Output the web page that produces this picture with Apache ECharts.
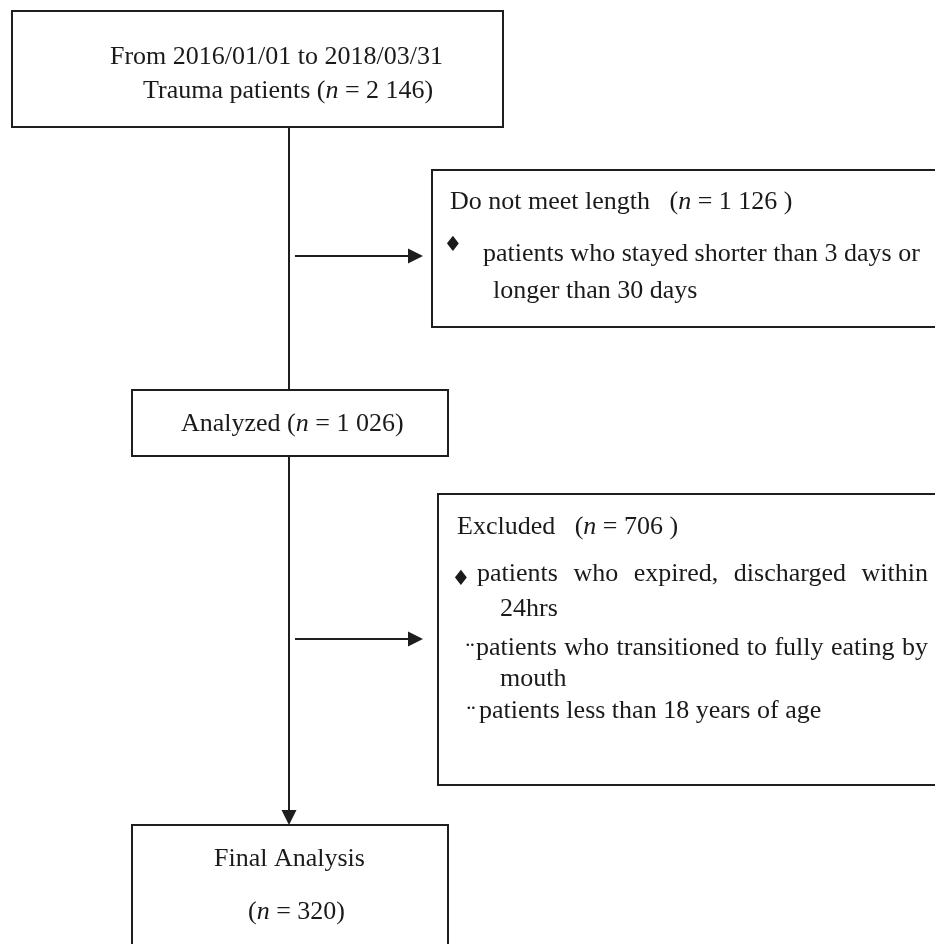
<!DOCTYPE html>
<html><head><meta charset="utf-8">
<script src="https://cdn.jsdelivr.net/npm/echarts@6/dist/echarts.min.js"></script>
<style>html,body{margin:0;padding:0;background:#fff}#c{width:935px;height:944px}</style>
</head><body><div id="c"></div>
<script>
// ---------- content (values) ----------
const periodText = 'From 2016/01/01 to 2018/03/31';
const stageNames = ['Trauma patients', 'Analyzed', 'Final Analysis'];
const stageCounts = [2146, 1026, 320];
const exclusionTitles = ['Do not meet length', 'Excluded'];
const exclusionCounts = [1126, 706];
const exclusionReasonsA = ['patients who stayed shorter than 3 days or|longer than 30 days'];
const exclusionReasonsB = ['patients who expired, discharged within|24hrs',
                           'patients who transitioned to fully eating by|mouth',
                           'patients less than 18 years of age'];
const bulletsA = ['\u2666'];
const bulletsB = ['\u2666', '\u00A8', '\u00A8'];

// ---------- layout (axis units, separate from values) ----------
const SERIF = '"Liberation Serif","Times New Roman",serif';
const FS = 26;
const FONT = FS + 'px ' + SERIF;
const IFONT = 'italic ' + FS + 'px ' + SERIF;
const INK = '#1a1a1a';
const LINE = '#1e1e1e';

const stageBoxes = [[12, 11, 503, 127], [132, 390, 448, 456], [132, 825, 448, 952]];
const exclBoxes = [[432, 170, 946, 327], [438, 494, 946, 785]];
const trunkX = 289;
const branchYs = [256, 639];
const branchX = [295, 423];

function fmt(n) { return String(n).replace(/\B(?=(\d{3})+(?!\d))/g, ' '); }
function nExpr(n, pad) { return '({i|n} = ' + fmt(n) + (pad ? ' )' : ')'); }

const mctx = document.createElement('canvas').getContext('2d');
function measure(t, font) { mctx.font = font; return mctx.measureText(t).width; }

// build element list
const elements = [];
stageBoxes.forEach(b => elements.push({ type: 'rect', b }));
exclBoxes.forEach(b => elements.push({ type: 'rect', b }));
elements.push({ type: 'line', p: [[trunkX, stageBoxes[0][3]], [trunkX, stageBoxes[1][1]]] });
elements.push({ type: 'arrow', p: [[trunkX, stageBoxes[1][3]], [trunkX, stageBoxes[2][1]]] });
branchYs.forEach(y => elements.push({ type: 'arrow', p: [[branchX[0], y], [branchX[1], y]] }));

// stage texts
elements.push({ type: 'text', x: 110, y: 57, t: periodText });
elements.push({ type: 'text', x: 143, y: 91, t: stageNames[0] + ' ' + nExpr(stageCounts[0]) });
elements.push({ type: 'text', x: 181, y: 424, t: stageNames[1] + ' ' + nExpr(stageCounts[1]) });
elements.push({ type: 'text', x: 214, y: 859, t: stageNames[2] });
elements.push({ type: 'text', x: 248, y: 912, t: nExpr(stageCounts[2]) });

// exclusion A
elements.push({ type: 'text', x: 450, y: 202, t: exclusionTitles[0] + '   ' + nExpr(exclusionCounts[0], true) });
const reasonPosA = [{ bx: 453, by: 246, lines: [[483, 254, null], [493, 291, null]] }];
exclusionReasonsA.forEach((r, i) => {
  const pos = reasonPosA[i];
  elements.push({ type: 'bullet', x: pos.bx, y: pos.by, t: bulletsA[i] });
  r.split('|').forEach((ln, k) => {
    const lp = pos.lines[k];
    elements.push({ type: 'text', x: lp[0], y: lp[1], t: ln, justify: lp[2] });
  });
});

// exclusion B
elements.push({ type: 'text', x: 457, y: 527, t: exclusionTitles[1] + '   ' + nExpr(exclusionCounts[1], true) });
const reasonPosB = [
  { bx: 461, by: 580, lines: [[477, 574, 928], [500, 609, null]] },
  { bx: 470, by: 653, lines: [[476, 648, 928], [500, 679, null]] },
  { bx: 471, by: 716, lines: [[479, 711, null]] }
];
exclusionReasonsB.forEach((r, i) => {
  const pos = reasonPosB[i];
  elements.push({ type: 'bullet', x: pos.bx, y: pos.by, t: bulletsB[i] });
  r.split('|').forEach((ln, k) => {
    const lp = pos.lines[k];
    elements.push({ type: 'text', x: lp[0], y: lp[1], t: ln, justify: lp[2] });
  });
});

const rich = { i: { font: IFONT, fill: INK } };

function renderItem(params, api) {
  const e = elements[params.dataIndex];
  if (e.type === 'rect') {
    const p0 = api.coord([e.b[0], e.b[1]]), p1 = api.coord([e.b[2], e.b[3]]);
    return { type: 'rect', shape: { x: Math.min(p0[0], p1[0]), y: Math.min(p0[1], p1[1]),
      width: Math.abs(p1[0] - p0[0]), height: Math.abs(p1[1] - p0[1]) },
      style: { fill: '#fff', stroke: LINE, lineWidth: 2 } };
  }
  if (e.type === 'line' || e.type === 'arrow') {
    const a = api.coord(e.p[0]), b = api.coord(e.p[1]);
    if (e.type === 'line') {
      return { type: 'line', shape: { x1: a[0], y1: a[1], x2: b[0], y2: b[1] }, style: { stroke: LINE, lineWidth: 2 } };
    }
    const dx = b[0] - a[0], dy = b[1] - a[1], len = Math.hypot(dx, dy);
    const ux = dx / len, uy = dy / len, hl = 15, hw = 7.5;
    const bx = b[0] - ux * hl, by = b[1] - uy * hl;
    return { type: 'group', children: [
      { type: 'line', shape: { x1: a[0], y1: a[1], x2: bx, y2: by }, style: { stroke: LINE, lineWidth: 2 } },
      { type: 'polygon', shape: { points: [[b[0], b[1]], [bx - uy * hw, by + ux * hw], [bx + uy * hw, by - ux * hw]] },
        style: { fill: LINE } }
    ] };
  }
  if (e.type === 'bullet') {
    const p = api.coord([e.x, e.y]);
    const isDia = e.t === '\u2666';
    return { type: 'text', style: { x: p[0], y: p[1], text: e.t,
      font: isDia ? '21px "DejaVu Sans",sans-serif' : FONT, fill: INK, align: 'center', verticalAlign: 'middle' } };
  }
  if (e.type === 'text') {
    const p = api.coord([e.x, e.y]);
    if (e.justify) {
      const words = e.t.split(' ');
      const end = api.coord([e.justify, e.y])[0];
      const widths = words.map(w => measure(w, FONT));
      const total = widths.reduce((s, v) => s + v, 0);
      const gap = (end - p[0] - total) / (words.length - 1);
      let cx = p[0];
      const children = words.map((w, k) => {
        const el = { type: 'text', style: { x: cx, y: p[1], text: w, font: FONT, fill: INK, align: 'left', verticalAlign: 'middle' } };
        cx += widths[k] + gap;
        return el;
      });
      return { type: 'group', children };
    }
    return { type: 'text', style: { x: p[0], y: p[1], text: e.t, font: FONT, fill: INK,
      align: 'left', verticalAlign: 'middle', rich } };
  }
}

const chart = echarts.init(document.getElementById('c'), null, { renderer: 'canvas' });
chart.setOption({
  backgroundColor: '#fff',
  animation: false,
  grid: { left: 0, right: 0, top: 0, bottom: 0 },
  xAxis: { type: 'value', min: 0, max: 935, show: false },
  yAxis: { type: 'value', min: 0, max: 944, inverse: true, show: false },
  series: [{
    type: 'custom',
    renderItem,
    clip: false,
    silent: true,
    data: elements.map(e => e.b ? [e.b[0], e.b[1]] : e.p ? e.p[0] : [e.x, e.y])
  }]
});
</script>
</body></html>
